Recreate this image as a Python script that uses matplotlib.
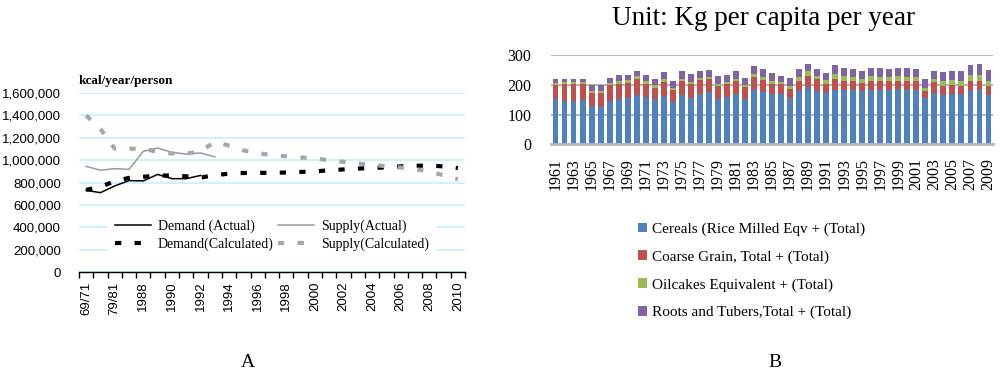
import numpy as np
import matplotlib
matplotlib.use("Agg")
import matplotlib.pyplot as plt
from matplotlib.ticker import FuncFormatter, FixedLocator

# ---- panel A data (kcal/year/person) ----
periods = ["69/71", "74/76", "79/81", "84/86"] + [str(y) for y in range(1988, 2011)]
demand_actual = [730e3, 710e3, 770e3, 818e3, 815e3, 873e3, 835e3, 835e3, 864e3]
supply_actual = [945e3, 910e3, 925e3, 918e3, 1080e3, 1109e3, 1070e3, 1055e3, 1065e3, 1030e3]
demand_calc = [735e3, 762e3, 812e3, 842e3, 852e3, 862e3, 864e3, 856e3, 845e3, 866e3,
               880e3, 886e3, 887e3, 887e3, 890e3, 895e3, 900e3, 910e3, 918e3, 925e3,
               930e3, 936e3, 945e3, 950e3, 952e3, 945e3, 930e3]
supply_calc = [1400e3, 1280e3, 1103e3, 1103e3, 1103e3, 1075e3, 1060e3, 1060e3, 1078e3, 1165e3,
               1130e3, 1088e3, 1064e3, 1045e3, 1035e3, 1025e3, 1015e3, 1000e3, 985e3, 970e3,
               960e3, 945e3, 935e3, 920e3, 900e3, 865e3, 830e3]

# ---- panel B data (kg per capita per year) ----
years = list(range(1961, 2010))
cereals = [151, 147, 147, 149, 128, 124, 145, 152, 155, 165, 161, 153, 163, 143, 165, 155,
           170, 175, 153, 161, 169, 153, 184, 177, 171, 169, 156, 178, 192, 178, 174, 183,
           183, 183, 179, 183, 183, 183, 185, 184, 184, 156, 174, 166, 171, 169, 178, 183, 166]
coarse = [48, 56, 55, 54, 44, 50, 54, 52, 53, 54, 43, 38, 48, 40, 50, 49,
          47, 45, 43, 42, 44, 40, 44, 41, 34, 34, 32, 37, 39, 41, 31, 39,
          32, 29, 28, 32, 29, 29, 30, 28, 31, 22, 36, 30, 29, 29, 37, 32, 30]
oilcakes = [9, 6, 8, 6, 6, 7, 8, 8, 8, 11, 11, 8, 10, 8, 7, 7,
            7, 8, 9, 7, 9, 7, 10, 10, 10, 7, 7, 13, 15, 11, 13, 16,
            16, 16, 14, 15, 16, 16, 15, 16, 13, 13, 11, 16, 18, 17, 18, 18, 16]
roots = [14, 13, 12, 13, 21, 18, 18, 21, 19, 18, 20, 20, 22, 22, 24, 26,
         25, 23, 26, 24, 25, 23, 25, 26, 26, 22, 28, 26, 24, 25, 23, 29,
         27, 26, 27, 29, 31, 26, 29, 28, 26, 29, 28, 32, 31, 34, 34, 39, 39]
series_names = ["Cereals (Rice Milled Eqv + (Total)", "Coarse Grain, Total + (Total)",
                "Oilcakes Equivalent + (Total)", "Roots and Tubers,Total + (Total)"]
colors = ["#4F81BD", "#C0504D", "#9BBB59", "#8064A2"]

serif = "Liberation Serif"
sans = "Liberation Sans"

fig = plt.figure(figsize=(10, 3.8), dpi=100)

# ================= panel A =================
ax = fig.add_axes([0.079, 0.284, 0.386, 0.471])
n = len(periods)
x = np.arange(n)
ax.plot(x[:len(demand_actual)], demand_actual, color="black", lw=1.1, label="Demand (Actual)")
ax.plot(x, demand_calc, color="black", lw=3, dashes=(1.5, 3.2), dash_capstyle="butt",
        label="Demand(Calculated)")
ax.plot(x[:len(supply_actual)], supply_actual, color="#999999", lw=1.1, label="Supply(Actual)")
ax.plot(x, supply_calc, color="#a6a6a6", lw=3, dashes=(1.5, 3.2), dash_capstyle="butt",
        label="Supply(Calculated)")

ax.set_xlim(-0.5, n - 0.5)
ax.set_ylim(0, 1.6e6)
ax.set_yticks(np.arange(0, 1.6e6 + 1, 2e5))
ax.yaxis.set_major_formatter(FuncFormatter(lambda v, p: f"{int(v):,}"))
ax.yaxis.grid(True, color="#c4f0f8", lw=1.2)
ax.set_axisbelow(True)
for s in ["top", "right", "left"]:
    ax.spines[s].set_visible(False)
ax.spines["bottom"].set_linewidth(1.0)
ax.tick_params(axis="y", length=0, pad=13, labelsize=9.5)
for t in ax.get_yticklabels():
    t.set_fontfamily(sans)
ax.set_xticks(x[::2])
ax.set_xticklabels(periods[::2], rotation=90, fontsize=9.5, family=sans)
ax.xaxis.set_minor_locator(FixedLocator(np.arange(-0.5, n, 1.0)))
ax.tick_params(axis="x", which="major", length=0, pad=7)
ax.tick_params(axis="x", which="minor", length=4, width=1)
ax.text(0.0, 1.07, "kcal/year/person", transform=ax.transAxes, fontsize=9.5,
        fontweight="bold", family=serif, ha="left", va="center")

h, l = ax.get_legend_handles_labels()
leg = ax.legend(h, l, ncol=2, loc="center", bbox_to_anchor=(0.50, 0.205),
                frameon=True, facecolor="white", edgecolor="none", framealpha=1,
                prop={"family": serif, "size": 10}, handlelength=2.6,
                handletextpad=0.5, columnspacing=0.3, labelspacing=0.35,
                borderpad=0.6)
leg.get_frame().set_boxstyle("square", pad=0)

fig.text(0.248, 0.047, "A", fontsize=14, family=serif, ha="center", va="center")

# ================= panel B =================
bx = fig.add_axes([0.551, 0.621, 0.442, 0.233])
xb = np.arange(len(years))
bottom = np.zeros(len(years))
for vals, name, c in zip([cereals, coarse, oilcakes, roots], series_names, colors):
    bx.bar(xb, vals, bottom=bottom, width=0.65, color=c, label=name, zorder=2)
    bottom += np.array(vals)

bx.set_xlim(-0.5, len(years) - 0.5)
bx.set_ylim(0, 300)
bx.set_yticks([0, 100, 200, 300])
bx.yaxis.grid(True, color="#b8b8b8", lw=1.5)
bx.set_axisbelow(True)
for s in ["top", "right", "left"]:
    bx.spines[s].set_visible(False)
bx.spines["bottom"].set_color("#b8b8b8")
bx.spines["bottom"].set_linewidth(2)
bx.spines["bottom"].set_zorder(3)
bx.tick_params(axis="y", length=0, pad=14, labelsize=11.5)
for t in bx.get_yticklabels():
    t.set_fontfamily(serif)
bx.set_xticks(xb[::2])
bx.set_xticklabels([str(y) for y in years[::2]], rotation=90, fontsize=11.5, family=serif)
bx.tick_params(axis="x", length=0, pad=10)

fig.text(0.764, 0.952, "Unit: Kg per capita per year", fontsize=19.5, family=serif,
         ha="center", va="center")
bh, bl = bx.get_legend_handles_labels()
fig.legend(bh, bl, loc="upper left", bbox_to_anchor=(0.632, 0.43), frameon=False,
           prop={"family": serif, "size": 11}, handlelength=0.6, handleheight=0.6,
           handletextpad=0.3, labelspacing=0.93, borderaxespad=0)

fig.text(0.775, 0.047, "B", fontsize=14, family=serif, ha="center", va="center")

fig.savefig("out.png", dpi=100)
